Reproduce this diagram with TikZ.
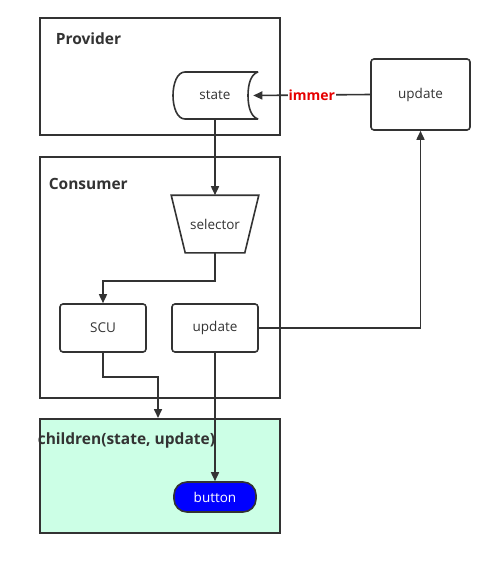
\documentclass[tikz,border=0pt]{standalone}
\usepackage{fontspec}
\setmainfont{Open Sans}
\usetikzlibrary{arrows.meta}
\definecolor{linea}{HTML}{333333}
\definecolor{menta}{HTML}{CCFFE6}
\definecolor{blu}{HTML}{0000FF}
\definecolor{rosso}{HTML}{E60000}

\begin{document}
\begin{tikzpicture}[x=1pt, y=-1pt, line width=1.6pt, color=linea, >={Triangle[length=9pt,width=8pt]}]
	% Stili
	\tikzset{
		contenitore/.style={rectangle, draw=linea, anchor=north west, inner sep=0pt},
		titolo/.style={anchor=west, inner sep=0pt, text=linea, font=\fontsize{15.5}{18}\selectfont\bfseries},
		blocco/.style={rectangle, rounded corners=3pt, draw=linea, minimum width=86pt, minimum height=48pt, inner sep=0pt, text=linea, font=\fontsize{13.5}{16}\selectfont},
		testo/.style={inner sep=0pt, text=linea, font=\fontsize{13.5}{16}\selectfont},
		freccia/.style={->, draw=linea}
	}
	\useasboundingbox (0,0) rectangle (494,562);
	
	% Contenitori
	\node[contenitore, minimum width=240pt, minimum height=117pt] (provider) at (39,17) {};
	\node[titolo] (tprovider) at (55,39) {Provider};
	\node[contenitore, minimum width=240pt, minimum height=241pt] (consumer) at (39,156) {};
	\node[titolo] (tconsumer) at (48,184) {Consumer};
	\node[contenitore, fill=menta, minimum width=240pt, minimum height=114pt] (children) at (39,418) {};
	\node[titolo] (tchildren) at (37,440) {children(state, update)};
	
	% Cilindro state
	\draw (258,72) -- (185,72) .. controls (177,72) and (173,84) .. (173,95.5)
		.. controls (173,107) and (177,119) .. (185,119) -- (258,119);
	\draw (258,72) .. controls (251,74) and (248,84) .. (248,95.5)
		.. controls (248,107) and (251,117) .. (258,119);
	\node[testo, minimum width=85pt, minimum height=47pt] (state) at (215,95.5) {state};
	
	% Trapezio selector
	\node[testo, minimum width=86pt, minimum height=56pt] (selector) at (215,224) {selector};
	\draw (selector.north west) -- (selector.north east) -- ([xshift=-14pt]selector.south east)
		-- ([xshift=14pt]selector.south west) -- cycle;
	
	% Blocchi
	\node[blocco] (scu) at (103,328) {SCU};
	\node[blocco] (aggiorna) at (215,328) {update};
	\node[blocco, minimum width=99pt, minimum height=71pt] (update) at (420.5,94.5) {update};
	\node[blocco, rounded corners=13pt, fill=blu, text=white, minimum width=82pt, minimum height=30pt] (button) at (215,497) {button};
	
	% Collegamenti
	\coordinate (ingresso) at (158,418);
	\draw[freccia] (update.west) -- ([xshift=-5pt]state.east)
		node[midway, fill=white, inner sep=1pt, text=rosso, font=\fontsize{14}{16}\selectfont\bfseries] {immer};
	\draw[freccia] (state.south) -- (selector.north);
	\draw[freccia] (selector.south) -- ++(0,28) -| (scu.north);
	\draw[freccia] (aggiorna.east) -| (update.south);
	\draw[freccia] (scu.south) -- ++(0,24) -| (ingresso);
	\draw[freccia] (aggiorna.south) -- (button.north);
	
\end{tikzpicture}
\end{document}
